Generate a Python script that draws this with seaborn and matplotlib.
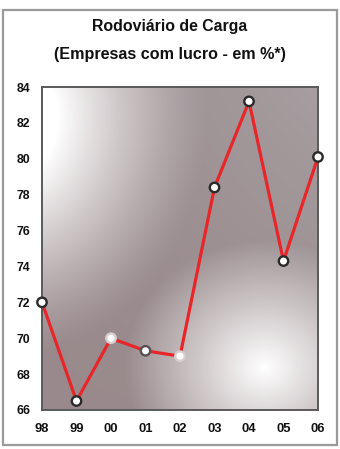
import numpy as np
import pandas as pd
import matplotlib
matplotlib.use("Agg")
import matplotlib.pyplot as plt
from matplotlib.patches import Rectangle
import seaborn as sns

# Share of road-freight companies reporting a profit (%)
years = ["98", "99", "00", "01", "02", "03", "04", "05", "06"]
profit_pct = [72.0, 66.5, 70.0, 69.3, 69.0, 78.4, 83.2, 74.3, 80.1]
y_ticks = [66, 68, 70, 72, 74, 76, 78, 80, 82, 84]

title_line1 = "Rodoviário de Carga"
title_line2 = "(Empresas com lucro - em %*)"

df = pd.DataFrame({"pos": np.arange(len(years)), "ano": years, "lucro": profit_pct})

sns.set_theme(style="white")
plt.rcParams["font.family"] = ["Liberation Sans", "DejaVu Sans"]

fig = plt.figure(figsize=(3.40, 4.49), dpi=100)
fig.patch.set_facecolor("white")

# outer frame of the panel
fig.add_artist(Rectangle((3 / 340, 4 / 449), 334 / 340, 435 / 449,
                         transform=fig.transFigure, fill=False,
                         edgecolor="#9a9a9a", linewidth=1.6))

fig.text(0.5, 1 - 26 / 449, title_line1, ha="center", va="center",
         fontsize=11.4, fontweight="bold", color="#111111")
fig.text(0.5, 1 - 55 / 449, title_line2, ha="center", va="center",
         fontsize=11.6, fontweight="bold", color="#111111")

ax = fig.add_axes([42 / 340, 1 - 410 / 449, 276 / 340, 323 / 449])

# shaded background: mauve-grey with a light wash at upper left and a glow at lower right
H, W = 323, 276
yy, xx = np.mgrid[0:H, 0:W]
r1 = np.hypot(xx + 40, (yy - 30) * 0.85)
t1 = np.clip(1 - (r1 - 55) / 150, 0, 1) ** 1.25
r2 = np.hypot((xx - 222) * 1.0, (yy - 280) * 1.1)
t2 = np.clip(1 - r2 / 140, 0, 1) ** 1.0
t = np.maximum(t1, t2)
dark = np.array([0.60, 0.54, 0.55])
corner = np.array([0.65, 0.62, 0.63])
base = dark + (corner - dark) * (xx / W)[..., None] * (1 - yy / H)[..., None]
img = base + (1 - base) * t[..., None]
ax.imshow(img, extent=(0, 1, 0, 1), transform=ax.transAxes, aspect="auto",
          interpolation="bilinear", zorder=0)

sns.lineplot(data=df, x="pos", y="lucro", ax=ax, color="#e8262a",
             linewidth=2.3, zorder=3)
edge = ["#2a2a2a", "#2a2a2a", "#d8d0d0", "#5a5050", "#d8d0d0",
        "#2a2a2a", "#2a2a2a", "#2a2a2a", "#2a2a2a"]
ax.scatter(df["pos"], df["lucro"], s=46, facecolor="white",
           edgecolors=edge, linewidths=1.7, zorder=4, clip_on=False)

ax.set_xlim(0, len(years) - 1)
ax.set_ylim(66, 84)
ax.set_xticks(df["pos"])
ax.set_xticklabels(years)
ax.set_yticks(y_ticks)
ax.set_yticklabels([str(v) for v in y_ticks])
ax.set_xlabel("")
ax.set_ylabel("")
ax.tick_params(axis="both", length=0, colors="#111111")
ax.tick_params(axis="x", pad=9.5, labelsize=9.4)
ax.tick_params(axis="y", pad=8.5, labelsize=8.8)
for lab in ax.get_xticklabels() + ax.get_yticklabels():
    lab.set_fontweight("bold")
for sp in ax.spines.values():
    sp.set_visible(True)
    sp.set_color("#5a5a5a")
    sp.set_linewidth(1.4)

fig.savefig("out.png", dpi=100, facecolor="white")
